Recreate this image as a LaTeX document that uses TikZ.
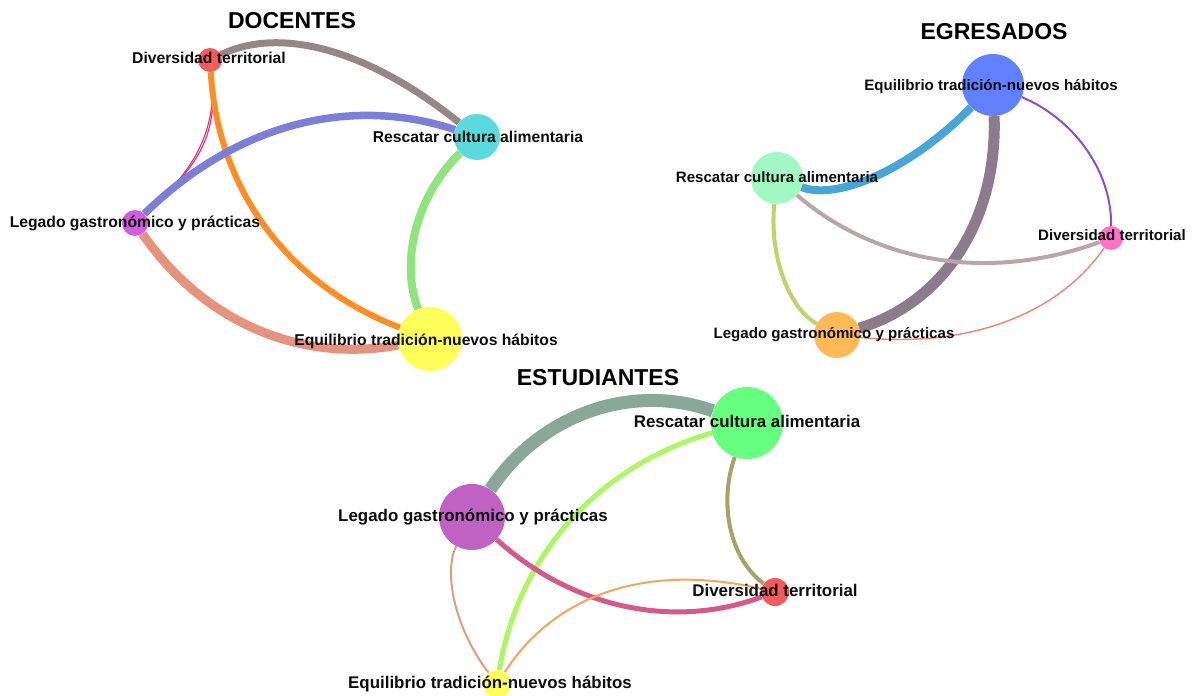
\documentclass[tikz,border=0pt]{standalone}
\usepackage{fontspec}
\setmainfont{Liberation Sans}
\pgfdeclarelayer{paper}
\pgfdeclarelayer{edges}
\pgfdeclarelayer{labels}
\pgfsetlayers{paper,edges,main,labels}
% node fills
\definecolor{nRed}{HTML}{F45B5B}
\definecolor{nCyan}{HTML}{5ADADA}
\definecolor{nMag}{HTML}{D35BDD}
\definecolor{nYel}{HTML}{FFFF5A}
\definecolor{nBlue}{HTML}{6180FF}
\definecolor{nMint}{HTML}{A2F8C2}
\definecolor{nPink}{HTML}{FF72C6}
\definecolor{nOrg}{HTML}{FFBA58}
\definecolor{nGreen}{HTML}{66FF80}
\definecolor{nPurp}{HTML}{C062C4}
% edge colours
\definecolor{eBrown}{HTML}{978686}
\definecolor{eOrange}{HTML}{FF8C24}
\definecolor{eCrimson}{HTML}{D62C7A}
\definecolor{eIndigo}{HTML}{7B7FD8}
\definecolor{eSalmon}{HTML}{E5937F}
\definecolor{eLGreen}{HTML}{8FE47C}
\definecolor{eSky}{HTML}{48A6D6}
\definecolor{eMauve}{HTML}{8B7B8D}
\definecolor{eViolet}{HTML}{8A4FD0}
\definecolor{eRosy}{HTML}{BAA6A6}
\definecolor{eYG}{HTML}{BAD56A}
\definecolor{eCoral}{HTML}{F2836F}
\definecolor{eSage}{HTML}{8AA897}
\definecolor{eLime}{HTML}{ADF763}
\definecolor{eOlive}{HTML}{A3A36A}
\definecolor{eRose}{HTML}{D7588A}
\definecolor{eTan}{HTML}{D9A07F}
\definecolor{eApricot}{HTML}{F5A55C}
\begin{document}
\begin{tikzpicture}[x=1pt,y=-1pt,
  dot/.style={circle, inner sep=0pt, draw=none},
  conn/.style={line cap=butt},
  labD/.style={inner sep=0pt, anchor=base, text=black!95, font=\fontsize{15.7}{18}\selectfont\bfseries},
  labE/.style={inner sep=0pt, anchor=base, text=black!95, font=\fontsize{15.1}{18}\selectfont\bfseries},
  labS/.style={inner sep=0pt, anchor=base, text=black!95, font=\fontsize{16.9}{20}\selectfont\bfseries},
  ttl/.style={inner sep=0pt, anchor=base, text=black, font=\fontsize{23}{26}\selectfont\bfseries}]
\begin{pgfonlayer}{paper}
\fill[white] (0,0) rectangle (1195,696);
\end{pgfonlayer}
\useasboundingbox (0,0) rectangle (1195,696);

% ---------------- titles
\node[ttl] (tD) at (292,28.3) {DOCENTES};
\node[ttl] (tE) at (994,39.3) {EGRESADOS};
\node[ttl] (tS) at (598,385.3) {ESTUDIANTES};

% ---------------- DOCENTES nodes
\node[dot, fill=nRed,  minimum size=24] (dDiv) at (210,60) {};
\node[dot, fill=nCyan, minimum size=46] (dRes) at (477,137) {};
\node[dot, fill=nMag,  minimum size=26] (dLeg) at (135,223) {};
\node[dot, fill=nYel,  minimum size=64] (dEq)  at (430,339) {};

% ---------------- EGRESADOS nodes
\node[dot, fill=nBlue, minimum size=62] (eEq)  at (993,85) {};
\node[dot, fill=nMint, minimum size=52] (eRes) at (777,178) {};
\node[dot, fill=nPink, minimum size=24] (eDiv) at (1111,238) {};
\node[dot, fill=nOrg,  minimum size=46] (eLeg) at (837,335) {};

% ---------------- ESTUDIANTES nodes
\node[dot, fill=nGreen, minimum size=72] (sRes) at (747,423) {};
\node[dot, fill=nPurp,  minimum size=66] (sLeg) at (472,517) {};
\node[dot, fill=nRed,   minimum size=28] (sDiv) at (775,592) {};
\node[dot, fill=nYel,   minimum size=28] (sEq)  at (497,684) {};

\begin{pgfonlayer}{edges}
% DOCENTES
\draw[conn, draw=eCrimson, line width=1.1] (dDiv) .. controls (222,150) and (180,180) .. (dLeg);
\draw[conn, draw=eCrimson, line width=1.1] (dDiv) .. controls (220,145) and (176,186) .. (dLeg);
\draw[conn, draw=eBrown, line width=7] (dDiv) .. controls (281.3,25.3) and (370.3,51) .. (dRes);
\draw[conn, draw=eOrange, line width=6] (dDiv) .. controls (218,193.3) and (291.3,286.3) .. (dEq);
\draw[conn, draw=eIndigo, line width=7.5] (dLeg) .. controls (236.3,123.7) and (350.3,95) .. (dRes);
\draw[conn, draw=eSalmon, line width=9] (dLeg) .. controls (205,324.3) and (303.3,363) .. (dEq);
\draw[conn, draw=eLGreen, line width=8] (dRes) .. controls (415.7,195.7) and (400,263) .. (dEq);
% EGRESADOS
\draw[conn, draw=eSky, line width=8] (eEq) .. controls (909.7,169.7) and (837.7,200.7) .. (eRes);
\draw[conn, draw=eMauve, line width=11] (eEq) .. controls (997.7,218.3) and (945.7,301.7) .. (eLeg);
\draw[conn, draw=eViolet, line width=2] (eEq) .. controls (1072.3,118.3) and (1111.7,169.3) .. (eDiv);
\draw[conn, draw=eRosy, line width=4] (eRes) .. controls (875.7,262.7) and (987,282.7) .. (eDiv);
\draw[conn, draw=eYG, line width=4] (eRes) .. controls (769,256) and (789,308.3) .. (eLeg);
\draw[conn, draw=eCoral, line width=1.4] (eLeg) .. controls (965.7,348.3) and (1057,316) .. (eDiv);
% ESTUDIANTES
\draw[conn, draw=eSage, line width=13] (sLeg) .. controls (540.7,413.7) and (632.3,382.3) .. (sRes);
\draw[conn, draw=eLime, line width=5] (sRes) .. controls (602.3,464.3) and (519,551.3) .. (sEq);
\draw[conn, draw=eOlive, line width=4] (sRes) .. controls (719,501) and (728.3,557.3) .. (sDiv);
\draw[conn, draw=eRose, line width=5] (sLeg) .. controls (569.3,605.7) and (670.3,630.7) .. (sDiv);
\draw[conn, draw=eTan, line width=2] (sLeg) .. controls (444,569) and (452.3,624.7) .. (sEq);
\draw[conn, draw=eApricot, line width=2] (sDiv) .. controls (648.3,562.7) and (555.7,593.3) .. (sEq);
\end{pgfonlayer}

\begin{pgfonlayer}{labels}
\node[labD] (dDivL) at (209,63.5) {Diversidad territorial};
\node[labD] (dResL) at (478,142.5) {Rescatar cultura alimentaria};
\node[labD] (dLegL) at (135,227.5) {Legado gastronómico y prácticas};
\node[labD] (dEqL)  at (426,345.5) {Equilibrio tradición-nuevos hábitos};
\node[labE] (eEqL)  at (991,90.3) {Equilibrio tradición-nuevos hábitos};
\node[labE] (eResL) at (777,182.3) {Rescatar cultura alimentaria};
\node[labE] (eDivL) at (1112,240.3) {Diversidad territorial};
\node[labE] (eLegL) at (834,338.3) {Legado gastronómico y prácticas};
\node[labS] (sResL) at (747,427.9) {Rescatar cultura alimentaria};
\node[labS] (sLegL) at (473,521.9) {Legado gastronómico y prácticas};
\node[labS] (sDivL) at (775,596.9) {Diversidad territorial};
\node[labS] (sEqL)  at (490,688.9) {Equilibrio tradición-nuevos hábitos};
\end{pgfonlayer}
\end{tikzpicture}
\end{document}
